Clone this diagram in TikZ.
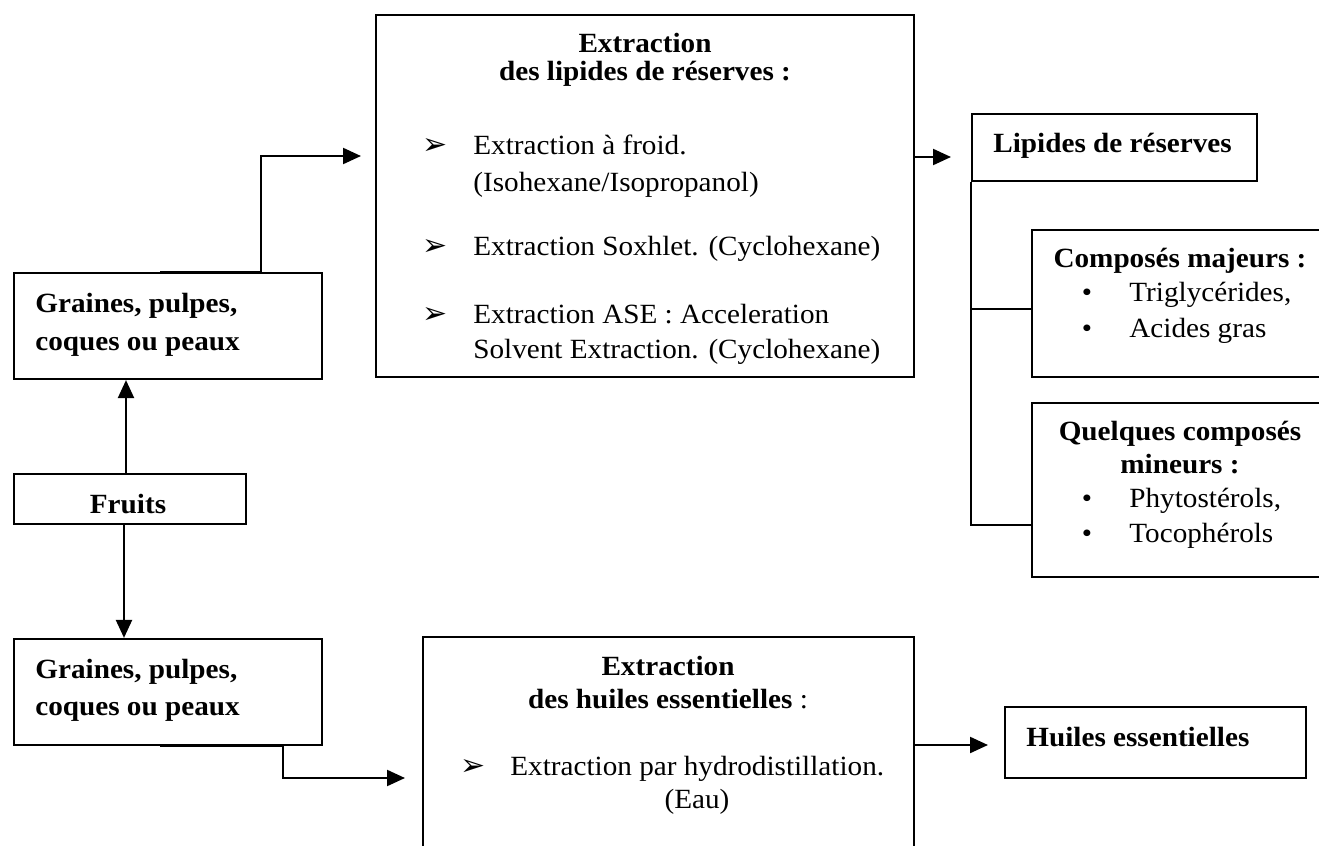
\documentclass[tikz,border=0pt]{standalone}
\usepackage{fontspec}
\setmainfont{Liberation Serif}[FakeStretch=1.05]
\newfontfamily\symfont{DejaVu Sans}
\usetikzlibrary{fit,arrows.meta}
\begin{document}
\begin{tikzpicture}[x=0.5pt,y=-0.5pt,
  box/.style={draw, line width=1.1pt, inner sep=0pt},
  tl/.style={anchor=base west, inner sep=0pt, font=\fontsize{13.9}{16}\selectfont},
  tc/.style={anchor=base, inner sep=0pt, font=\fontsize{13.9}{16}\selectfont},
  bl/.style={anchor=base west, inner sep=0pt, font=\fontsize{13.9}{16}\selectfont\bfseries},
  bc/.style={anchor=base, inner sep=0pt, font=\fontsize{13.9}{16}\selectfont\bfseries},
  sy/.style={anchor=base, inner sep=0pt, font=\symfont\fontsize{15}{16}\selectfont},
  arr/.style={line width=1.1pt, -{Triangle[length=9pt,width=8pt]}},
  ln/.style={line width=1.1pt}]
\useasboundingbox (0,0) rectangle (1319,846);
\clip (0,0) rectangle (1319,846);

% boxes
\node[box, fit={(14,273)(322,379)}] (g1) {};
\node[box, fit={(14,474)(246,524)}] (fr) {};
\node[box, fit={(14,639)(322,745)}] (g2) {};
\node[box, fit={(376,15)(914,377)}] (lx) {};
\node[box, fit={(423,637)(914,870)}] (he) {};
\node[box, fit={(972,114)(1257,181)}] (lr) {};
\node[box, fit={(1032,230)(1340,377)}] (mj) {};
\node[box, fit={(1032,403)(1340,577)}] (mn) {};
\node[box, fit={(1005,707)(1306,778)}] (hu) {};

% coordinates for free arrow ends
\coordinate (t1) at (361,156);
\coordinate (t2) at (405,778);
\coordinate (t3) at (951,157);
\coordinate (t4) at (988,745);
\coordinate (bj) at (1032,309);
\coordinate (bm) at (1032,525);

% connectors
\draw[arr] ([xshift=-2pt]fr.north) -- ([xshift=-2pt]fr.north |- g1.south);
\draw[arr] ([xshift=-3pt]fr.south) -- ([xshift=-3pt]fr.south |- g2.north);
\draw[arr] ([xshift=-4pt]g1.north) -- ++(101,0) |- (t1);
\draw[arr] ([xshift=-4pt]g2.south) -- ++(123,0) |- (t2);
\draw[arr] (lx.east |- t3) -- (t3);
\draw[arr] (he.east |- t4) -- (t4);
\draw[ln] (lr.south west) |- (bm);
\draw[ln] (lr.south west |- bj) -- (bj);

% left boxes text
\node[bl] (g1a) at (35,312) {Graines, pulpes,};
\node[bl] (g1b) at (35,350) {coques ou peaux};
\node[bc] (frt) at (128,513) {Fruits};
\node[bl] (g2a) at (35,678) {Graines, pulpes,};
\node[bl] (g2b) at (35,715) {coques ou peaux};

% lipid extraction box text
\node[bc] (l1) at (645,53) {Extraction};
\node[bc] (l2) at (645,80) {des lipides de réserves :};
\node[sy] (lb1) at (435,154) {➢};
\node[tl] (l3) at (473,154) {Extraction à froid.};
\node[tl] (l4) at (473,191) {(Isohexane/Isopropanol)};
\node[sy] (lb2) at (435,255) {➢};
\node[tl] (l5) at (473,255) {Extraction Soxhlet. (Cyclohexane)};
\node[sy] (lb3) at (435,323) {➢};
\node[tl] (l6) at (473,323) {Extraction ASE : Acceleration};
\node[tl] (l7) at (473,358) {Solvent Extraction. (Cyclohexane)};

% essential oils extraction box text
\node[bc] (h1) at (668,675) {Extraction};
\node[tc] (h2) at (668,708) {\textbf{des huiles essentielles} :};
\node[sy] (hb1) at (473,775) {➢};
\node[tl] (h3) at (510,775) {Extraction par hydrodistillation.};
\node[tc] (h4) at (697,808) {(Eau)};

% right side
\node[bl] (lrt) at (993,152) {Lipides de réserves};
\node[bc] (mj1) at (1180,267) {Composés majeurs :};
\node[tc] (mjb1) at (1087,301) {•};
\node[tl] (mj2) at (1129,301) {Triglycérides,};
\node[tc] (mjb2) at (1087,337) {•};
\node[tl] (mj3) at (1129,337) {Acides gras};
\node[bc] (mn1) at (1180,440) {Quelques composés};
\node[bc] (mn2) at (1180,473) {mineurs :};
\node[tc] (mnb1) at (1087,507) {•};
\node[tl] (mn3) at (1129,507) {Phytostérols,};
\node[tc] (mnb2) at (1087,542) {•};
\node[tl] (mn4) at (1129,542) {Tocophérols};
\node[bl] (hut) at (1026,746) {Huiles essentielles};
\end{tikzpicture}
\end{document}
